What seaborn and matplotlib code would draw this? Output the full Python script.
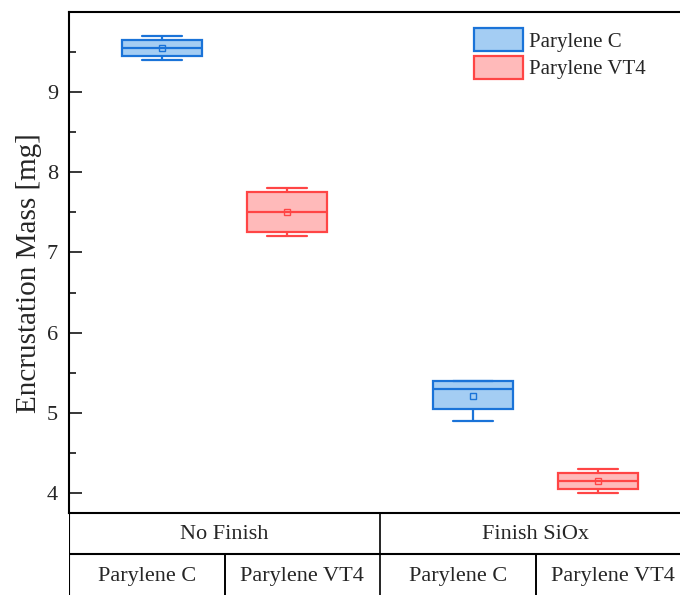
import numpy as np
import pandas as pd
import seaborn as sns
import matplotlib.pyplot as plt
from matplotlib.patches import Patch

# Encrustation mass per specimen [mg]
finishes = ["No Finish", "Finish SiOx"]
materials = ["Parylene C", "Parylene VT4"]
no_finish_parylene_c = [9.40, 9.45, 9.55, 9.65, 9.70]
no_finish_parylene_vt4 = [7.20, 7.25, 7.50, 7.75, 7.80]
siox_parylene_c = [4.90, 5.05, 5.30, 5.40, 5.40]
siox_parylene_vt4 = [4.00, 4.05, 4.15, 4.25, 4.30]

samples = {
    ("No Finish", "Parylene C"): no_finish_parylene_c,
    ("No Finish", "Parylene VT4"): no_finish_parylene_vt4,
    ("Finish SiOx", "Parylene C"): siox_parylene_c,
    ("Finish SiOx", "Parylene VT4"): siox_parylene_vt4,
}
rows = [(f, m, v) for (f, m), vals in samples.items() for v in vals]
df = pd.DataFrame(rows, columns=["finish", "material", "mass"])

edge_colors = {"Parylene C": "#1a73d8", "Parylene VT4": "#ff4545"}
fill_colors = {"Parylene C": "#a4cdf3", "Parylene VT4": "#ffbaba"}

sns.set_theme(style="ticks")
plt.rcParams["font.family"] = ["Liberation Serif", "DejaVu Serif"]

W, H = 680, 595
fig = plt.figure(figsize=(W / 100, H / 100), dpi=100)
ax_left, ax_right, ax_top, ax_bot = 69, 691, 12, 513
ax = fig.add_axes([ax_left / W, 1 - ax_bot / H,
                   (ax_right - ax_left) / W, (ax_bot - ax_top) / H])

sns.boxplot(data=df, x="finish", y="mass", hue="material",
            order=finishes, hue_order=materials,
            palette=fill_colors, saturation=1, width=0.8, gap=0.36,
            whis=(0, 100), showmeans=True, linewidth=1.6, legend=False, ax=ax,
            meanprops=dict(marker="s", markerfacecolor="none",
                           markersize=5, markeredgewidth=1.0))

# Colour the outlines of each box to its material
n_f = len(finishes)
for i, patch in enumerate(ax.patches):
    mat = materials[i // n_f]
    patch.set_edgecolor(edge_colors[mat])
lines_per_box = len(ax.lines) // (len(finishes) * len(materials))
for j, line in enumerate(ax.lines):
    mat = materials[(j // lines_per_box) // n_f]
    line.set_color(edge_colors[mat])
    line.set_markeredgecolor(edge_colors[mat])

ax.set_xlim(-0.5, 1.5)
ax.set_ylim(3.75, 10.0)
ax.set_yticks([4, 5, 6, 7, 8, 9])
ax.set_yticks(np.arange(4.5, 10, 1.0), minor=True)
ax.tick_params(axis="y", which="major", direction="in", length=9, width=1.3,
               labelsize=16, pad=8)
ax.tick_params(axis="y", which="minor", direction="in", length=5, width=1.3)
ax.tick_params(axis="x", which="both", bottom=False, labelbottom=False)
ax.set_xlabel("")
ax.set_ylabel("Encrustation Mass [mg]", fontsize=21)
ax.yaxis.set_label_coords(-0.043, 0.479)
for s in ax.spines.values():
    s.set_linewidth(1.5)
    s.set_color("black")

handles = [Patch(facecolor=fill_colors[m], edgecolor=edge_colors[m],
                 linewidth=1.6, label=m) for m in materials]
ax.legend(handles=handles, loc="upper left", bbox_to_anchor=(0.638, 0.984),
          frameon=False, fontsize=15, handlelength=2.35, handleheight=1.3,
          handletextpad=0.3, labelspacing=0.2, borderaxespad=0)

# Category table under the plot
tax = fig.add_axes([ax_left / W, 0, (ax_right - ax_left) / W, (H - ax_bot) / H])
tax.set_xlim(-0.5, 1.5)
tax.set_ylim(0, 2)
tax.axis("off")
tax.axhline(1, color="black", lw=1.5)
tax.axvline(-0.5, color="black", lw=1.5)
tax.plot([0.5, 0.5], [0, 2], color="black", lw=1.2)
for k, f in enumerate(finishes):
    tax.text(k, 1.47, f, ha="center", va="center", fontsize=16)
    for dx, m in zip([-0.25, 0.25], materials):
        tax.text(k + dx, 0.45, m, ha="center", va="center", fontsize=16)
        tax.plot([k, k], [0, 1], color="black", lw=1.2)

fig.savefig("out.png", dpi=100)
